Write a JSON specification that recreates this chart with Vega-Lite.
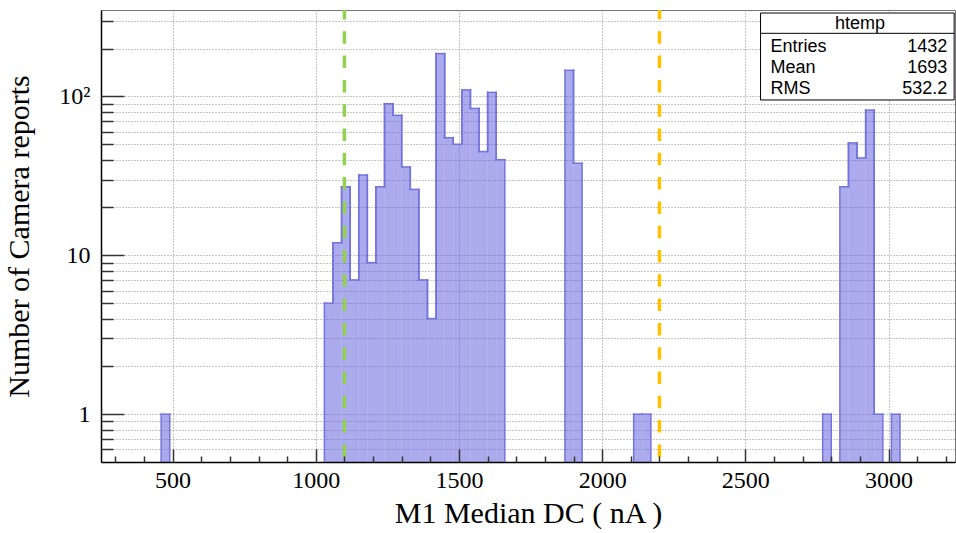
{
  "$schema": "https://vega.github.io/schema/vega-lite/v6.json",
  "width": 854,
  "height": 452,
  "autosize": {"type": "none"},
  "padding": {"left": 101, "top": 10, "right": 1, "bottom": 71},
  "background": "white",
  "config": {
    "view": {"stroke": "#777777", "strokeWidth": 1},
    "axis": {"labelColor": "#000000", "titleColor": "#000000", "titleFontWeight": "normal"}
  },
  "datasets": {
    "hist": [
      {"lo": 460, "hi": 490, "n": 1},
      {"lo": 1030, "hi": 1060, "n": 5},
      {"lo": 1060, "hi": 1090, "n": 12},
      {"lo": 1090, "hi": 1120, "n": 27},
      {"lo": 1120, "hi": 1150, "n": 7},
      {"lo": 1150, "hi": 1180, "n": 32},
      {"lo": 1180, "hi": 1210, "n": 9},
      {"lo": 1210, "hi": 1240, "n": 27},
      {"lo": 1240, "hi": 1270, "n": 90},
      {"lo": 1270, "hi": 1300, "n": 76},
      {"lo": 1300, "hi": 1330, "n": 36},
      {"lo": 1330, "hi": 1360, "n": 26},
      {"lo": 1360, "hi": 1390, "n": 7},
      {"lo": 1390, "hi": 1420, "n": 4},
      {"lo": 1420, "hi": 1450, "n": 186},
      {"lo": 1450, "hi": 1480, "n": 55},
      {"lo": 1480, "hi": 1510, "n": 50},
      {"lo": 1510, "hi": 1540, "n": 110},
      {"lo": 1540, "hi": 1570, "n": 84},
      {"lo": 1570, "hi": 1600, "n": 45},
      {"lo": 1600, "hi": 1630, "n": 106},
      {"lo": 1630, "hi": 1660, "n": 40},
      {"lo": 1870, "hi": 1900, "n": 146},
      {"lo": 1900, "hi": 1930, "n": 38},
      {"lo": 2110, "hi": 2140, "n": 1},
      {"lo": 2140, "hi": 2170, "n": 1},
      {"lo": 2770, "hi": 2800, "n": 1},
      {"lo": 2830, "hi": 2860, "n": 27},
      {"lo": 2860, "hi": 2890, "n": 51},
      {"lo": 2890, "hi": 2920, "n": 41},
      {"lo": 2920, "hi": 2950, "n": 82},
      {"lo": 2950, "hi": 2980, "n": 1},
      {"lo": 3010, "hi": 3040, "n": 1}
    ]
  },
  "resolve": {"axis": {"x": "independent", "y": "independent"}},
  "layer": [
    {
      "data": {"name": "hist"},
      "mark": {"type": "rect", "fill": "#5555d9", "fillOpacity": 0.5, "strokeWidth": 0},
      "encoding": {
        "x": {"field": "lo", "type": "quantitative", "scale": {"domain": [250, 3232], "nice": false, "zero": false},
          "axis": {"orient": "bottom", "values": [500, 1000, 1500, 2000, 2500, 3000], "grid": true, "gridColor": "#8c8c8c", "gridDash": [1, 2], "gridWidth": 1, "ticks": false, "labels": false, "domain": false, "title": null, "zindex": 0}},
        "x2": {"field": "hi"},
        "y": {"field": "n", "type": "quantitative", "scale": {"type": "log", "domain": [0.5, 350], "nice": false},
          "axis": {"orient": "left", "values": [0.6, 0.7, 0.8, 0.9, 1, 2, 3, 4, 5, 6, 7, 8, 9, 10, 20, 30, 40, 50, 60, 70, 80, 90, 100, 200, 300], "grid": true, "gridColor": "#8c8c8c", "gridDash": [1, 2], "gridWidth": 1, "ticks": false, "labels": false, "domain": false, "title": null, "zindex": 0}},
        "y2": {"datum": 0.5}
      }
    },
    {
      "data": {"name": "hist"},
      "mark": {"type": "rule", "color": "#7373dd", "strokeWidth": 1.5, "strokeCap": "square"},
      "encoding": {
        "x": {"field": "lo", "type": "quantitative", "scale": {"domain": [250, 3232], "nice": false, "zero": false},
          "axis": {"orient": "bottom", "values": [500, 1000, 1500, 2000, 2500, 3000], "format": "d", "grid": false, "ticks": false, "labels": true, "labelFont": "Times New Roman", "labelFontSize": 24, "labelPadding": 6, "domain": true, "domainColor": "#000000", "domainWidth": 1.5, "title": "M1 Median DC ( nA )", "titleFont": "Times New Roman", "titleFontSize": 30, "titlePadding": 6, "zindex": 1}},
        "x2": {"field": "hi"},
        "y": {"field": "n", "type": "quantitative", "scale": {"type": "log", "domain": [0.5, 350], "nice": false},
          "axis": {"orient": "left", "values": [1, 10, 100], "labelExpr": "datum.value >= 100 ? '10²' : format(datum.value, 'd')", "grid": false, "ticks": false, "labels": true, "labelFont": "Times New Roman", "labelFontSize": 24, "labelPadding": 11, "domain": true, "domainColor": "#000000", "domainWidth": 1.5, "title": "Number of Camera reports", "titleFont": "Times New Roman", "titleFontSize": 30, "titlePadding": 24, "zindex": 1}}
      }
    },
    {
      "data": {"name": "hist"},
      "transform": [
        {"lookup": "lo", "from": {"data": {"name": "hist"}, "key": "hi", "fields": ["n"]}, "as": ["prev"], "default": 0.5}
      ],
      "mark": {"type": "rule", "color": "#7373dd", "strokeWidth": 1.5, "strokeCap": "square"},
      "encoding": {
        "x": {"field": "lo", "type": "quantitative", "scale": {"domain": [250, 3232], "nice": false, "zero": false},
          "axis": {"orient": "bottom", "values": [300, 400, 600, 700, 800, 900, 1100, 1200, 1300, 1400, 1600, 1700, 1800, 1900, 2100, 2200, 2300, 2400, 2600, 2700, 2800, 2900, 3100, 3200], "grid": false, "ticks": true, "tickSize": -6, "tickColor": "#333333", "tickWidth": 1.5, "labels": false, "domain": false, "title": null, "zindex": 1}},
        "y": {"field": "n", "type": "quantitative", "scale": {"type": "log", "domain": [0.5, 350], "nice": false},
          "axis": {"orient": "left", "values": [0.6, 0.7, 0.8, 0.9, 2, 3, 4, 5, 6, 7, 8, 9, 20, 30, 40, 50, 60, 70, 80, 90, 200, 300], "grid": false, "ticks": true, "tickSize": -12, "tickColor": "#333333", "tickWidth": 1.5, "labels": false, "domain": false, "title": null, "zindex": 1}},
        "y2": {"field": "prev"}
      }
    },
    {
      "data": {"name": "hist"},
      "transform": [
        {"lookup": "hi", "from": {"data": {"name": "hist"}, "key": "lo", "fields": ["n"]}, "as": ["next"], "default": 0.5}
      ],
      "mark": {"type": "rule", "color": "#7373dd", "strokeWidth": 1.5, "strokeCap": "square"},
      "encoding": {
        "x": {"field": "hi", "type": "quantitative", "scale": {"domain": [250, 3232], "nice": false, "zero": false},
          "axis": {"orient": "bottom", "values": [500, 1000, 1500, 2000, 2500, 3000], "grid": false, "ticks": true, "tickSize": -13, "tickColor": "#333333", "tickWidth": 1.5, "labels": false, "domain": false, "title": null, "zindex": 1}},
        "y": {"field": "n", "type": "quantitative", "scale": {"type": "log", "domain": [0.5, 350], "nice": false},
          "axis": {"orient": "left", "values": [1, 10, 100], "grid": false, "ticks": true, "tickSize": -23, "tickColor": "#333333", "tickWidth": 1.5, "labels": false, "domain": false, "title": null, "zindex": 1}},
        "y2": {"field": "next"}
      }
    },
    {
      "data": {"values": [{}]},
      "mark": {"type": "rule", "color": "#92d050", "strokeWidth": 3.5, "strokeDash": [12.5, 11.8], "strokeDashOffset": 3},
      "encoding": {
        "x": {"datum": 1100, "type": "quantitative", "axis": null}
      }
    },
    {
      "data": {"values": [{}]},
      "mark": {"type": "rule", "color": "#ffc000", "strokeWidth": 3.5, "strokeDash": [12.5, 11.8], "strokeDashOffset": 3},
      "encoding": {
        "x": {"datum": 2200, "type": "quantitative", "axis": null}
      }
    },
    {
      "data": {"values": [{}]},
      "mark": {"type": "rect", "fill": "white", "stroke": "#000000", "strokeWidth": 1},
      "encoding": {
        "x": {"datum": 2553, "type": "quantitative", "axis": null},
        "x2": {"datum": 3229},
        "y": {"datum": 95, "type": "quantitative", "axis": null},
        "y2": {"datum": 335}
      }
    },
    {
      "data": {"values": [{}]},
      "mark": {"type": "rule", "color": "#000000", "strokeWidth": 1},
      "encoding": {
        "x": {"datum": 2553, "type": "quantitative", "axis": null},
        "x2": {"datum": 3229},
        "y": {"datum": 249.6, "type": "quantitative", "axis": null}
      }
    },
    {
      "data": {"values": [{}]},
      "mark": {"type": "text", "text": "htemp", "font": "Liberation Sans", "fontSize": 18, "align": "center", "baseline": "middle", "color": "#000000"},
      "encoding": {
        "x": {"datum": 2900, "type": "quantitative", "axis": null},
        "y": {"datum": 287.8, "type": "quantitative", "axis": null}
      }
    },
    {
      "data": {"values": [{}]},
      "mark": {"type": "text", "text": ["Entries", "Mean", "RMS"], "lineHeight": 21.3, "font": "Liberation Sans", "fontSize": 18, "align": "left", "baseline": "middle", "color": "#000000"},
      "encoding": {
        "x": {"datum": 2588, "type": "quantitative", "axis": null},
        "y": {"datum": 205.6, "type": "quantitative", "axis": null}
      }
    },
    {
      "data": {"values": [{}]},
      "mark": {"type": "text", "text": ["1432", "1693", "532.2"], "lineHeight": 21.3, "font": "Liberation Sans", "fontSize": 18, "align": "right", "baseline": "middle", "color": "#000000"},
      "encoding": {
        "x": {"datum": 3205, "type": "quantitative", "axis": null},
        "y": {"datum": 205.6, "type": "quantitative", "axis": null}
      }
    }
  ]
}
